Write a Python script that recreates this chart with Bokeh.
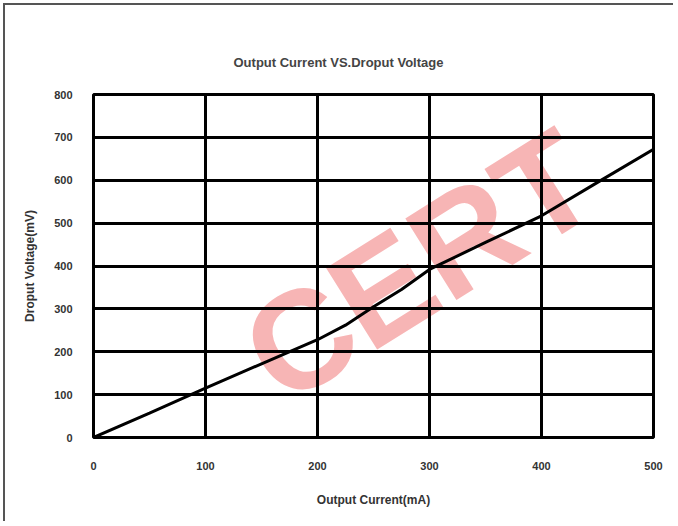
from bokeh.plotting import figure
from bokeh.models import Range1d, FixedTicker, Label
from bokeh.embed import file_html
from bokeh.resources import INLINE
import math

# ---- data ----
current_ma = [0, 50, 100, 150, 200, 225, 250, 275, 300, 350, 400, 450, 500]
dropout_mv = [0, 57, 115, 172, 228, 262, 305, 345, 392, 455, 517, 595, 672]
x_ticks = [0, 100, 200, 300, 400, 500]
y_ticks = [0, 100, 200, 300, 400, 500, 600, 700, 800]

title_text = "Output Current VS.Droput Voltage"
x_label = "Output Current(mA)"
y_label = "Droput Voltage(mV)"
watermark = "CERT"

FONT = "Liberation Sans"

p = figure(width=670, height=518, output_backend="svg", toolbar_location=None,
           x_range=Range1d(0, 500), y_range=Range1d(0, 800),
           min_border_left=88, min_border_right=22,
           min_border_top=89, min_border_bottom=86)

# watermark behind everything
wm = Label(x=291, y=400, text=watermark, angle=math.radians(32),
           text_align="center", text_baseline="middle",
           text_font=FONT, text_font_size="140px", text_font_style="bold",
           text_color="#f7b5b5", text_alpha=1.0, level="image")
p.add_layout(wm)

p.line(current_ma, dropout_mv, line_color="black", line_width=3)

# title
p.title.text = title_text
p.title.text_font = FONT
p.title.text_font_size = "13px"
p.title.text_font_style = "bold"
p.title.text_color = "#444444"
p.title.align = "left"
p.title.offset = 140
p.title.standoff = 50

# grid
p.xgrid.ticker = FixedTicker(ticks=x_ticks)
p.ygrid.ticker = FixedTicker(ticks=y_ticks)
for g in (p.xgrid, p.ygrid):
    g.grid_line_color = "black"
    g.grid_line_width = 3
    g.grid_line_alpha = 1.0

p.outline_line_color = "black"
p.outline_line_width = 3
p.background_fill_color = None
p.border_fill_color = "white"

# axes
p.xaxis.ticker = FixedTicker(ticks=x_ticks)
p.yaxis.ticker = FixedTicker(ticks=y_ticks)
for ax in (p.xaxis[0], p.yaxis[0]):
    ax.axis_line_color = None
    ax.major_tick_line_color = None
    ax.minor_tick_line_color = None
    ax.major_label_text_font = FONT
    ax.major_label_text_font_size = "11px"
    ax.major_label_text_font_style = "bold"
    ax.major_label_text_color = "#333333"
    ax.axis_label_text_font = FONT
    ax.axis_label_text_font_size = "12px"
    ax.axis_label_text_font_style = "bold"
    ax.axis_label_text_color = "#333333"

p.xaxis.axis_label = x_label
p.yaxis.axis_label = y_label
p.xaxis.major_label_standoff = 18
p.yaxis.major_label_standoff = 15
p.xaxis.axis_label_standoff = 20
p.yaxis.axis_label_standoff = 14

p.styles = {"margin-left": "3px", "margin-top": "3px",
            "border-left": "2px solid #555555", "border-top": "2px solid #555555"}

open("out.html", "w").write(file_html(p, INLINE))
